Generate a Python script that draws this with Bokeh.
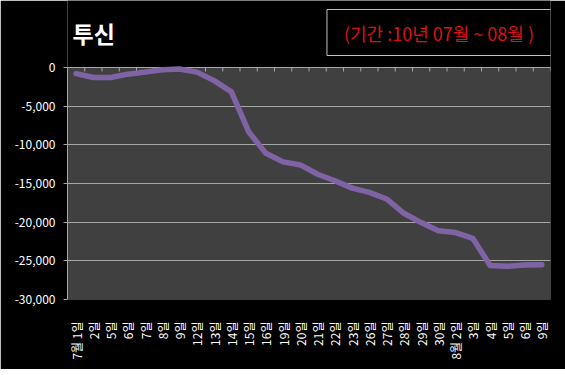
from bokeh.plotting import figure
from bokeh.models import Range1d, FixedTicker, LinearAxis, NumeralTickFormatter, Label, BoxAnnotation
from bokeh.embed import file_html
from bokeh.resources import INLINE

dates = ["7월 1일", "2일", "5일", "6일", "7일", "8일", "9일", "12일", "13일", "14일",
         "15일", "16일", "19일", "20일", "21일", "22일", "23일", "26일", "27일", "28일",
         "29일", "30일", "8월 2일", "3일", "4일", "5일", "6일", "9일"]
values = [-800, -1300, -1300, -860, -600, -300, -200, -600, -1700, -3150,
          -8300, -11100, -12200, -12600, -13800, -14650, -15600, -16150, -17000, -18850,
          -20050, -21100, -21350, -22100, -25600, -25700, -25550, -25500]
y_ticks = [0, -5000, -10000, -15000, -20000, -25000, -30000]
title_text = "투신"
period_text = "(기간 :10년 07월 ~ 08월 )"

n = len(dates)
xs = list(range(n))
KR = "Noto Sans CJK KR"
y_min, y_max = -30000, 0
# extra headroom above zero so the heading texts sit inside the frame
top_pad = (y_max - y_min) * 67 / 232

p = figure(width=565, height=369, output_backend="svg", toolbar_location=None,
           x_range=Range1d(-0.5, n - 0.5), y_range=Range1d(y_min, y_max + top_pad),
           x_axis_location=None, y_axis_location=None,
           min_border_left=67, min_border_right=15, min_border_top=0, min_border_bottom=70)
p.background_fill_color = "#000000"
p.border_fill_color = "#000000"
p.outline_line_color = None

p.add_layout(BoxAnnotation(bottom=y_min, top=y_max, fill_color="#404040", fill_alpha=1,
                           line_color=None, level="image"))

# left axis
ya = LinearAxis(ticker=FixedTicker(ticks=y_ticks), formatter=NumeralTickFormatter(format="0,0"),
                bounds=(y_min, y_max))
ya.axis_line_color = "#a6a6a6"
ya.major_tick_line_color = "#a6a6a6"
ya.major_tick_out = 4
ya.major_tick_in = 0
ya.minor_tick_line_color = None
ya.major_label_text_color = "#ffffff"
ya.major_label_text_font = KR
ya.major_label_text_font_size = "12px"
ya.major_label_standoff = 8
p.add_layout(ya, "left")

# bottom axis with labels only
xa = LinearAxis(ticker=FixedTicker(ticks=xs),
                major_label_overrides={i: d for i, d in enumerate(dates)})
xa.axis_line_color = None
xa.major_tick_line_color = None
xa.minor_tick_line_color = None
xa.major_label_orientation = 1.5707963
xa.major_label_text_color = "#ffffff"
xa.major_label_text_font = KR
xa.major_label_text_font_size = "12px"
xa.major_label_standoff = 16
p.add_layout(xa, "below")

p.xgrid.visible = False
p.ygrid.ticker = FixedTicker(ticks=y_ticks)
p.ygrid.grid_line_color = "#a6a6a6"
p.ygrid.grid_line_width = 1

# category boundary tick marks hanging from the zero line
bounds = [i + 0.5 for i in range(-1, n)]
p.ray(x=bounds, y=[y_max] * len(bounds), length=4, length_units="screen",
      angle=-1.5707963, line_color="#a6a6a6", line_width=1)

p.line(xs, values, line_color="#7f63a5", line_width=5.5, line_join="round", line_cap="round")

p.add_layout(Label(x=5, y=266.5, x_units="screen", y_units="screen", text=title_text,
                   text_font=KR, text_font_size="23px", text_font_style="bold",
                   text_color="#ffffff", text_baseline="middle"))
p.add_layout(Label(x=371.5, y=267, x_units="screen", y_units="screen", text=period_text,
                   text_font=KR, text_font_size="18px", text_color="#dd1111",
                   text_align="center", text_baseline="middle",
                   border_line_color="#c0c0c0", border_line_width=1,
                   background_fill_color="#000000", padding=(17, 10)))

open("out.html", "w").write(file_html(p, INLINE))
